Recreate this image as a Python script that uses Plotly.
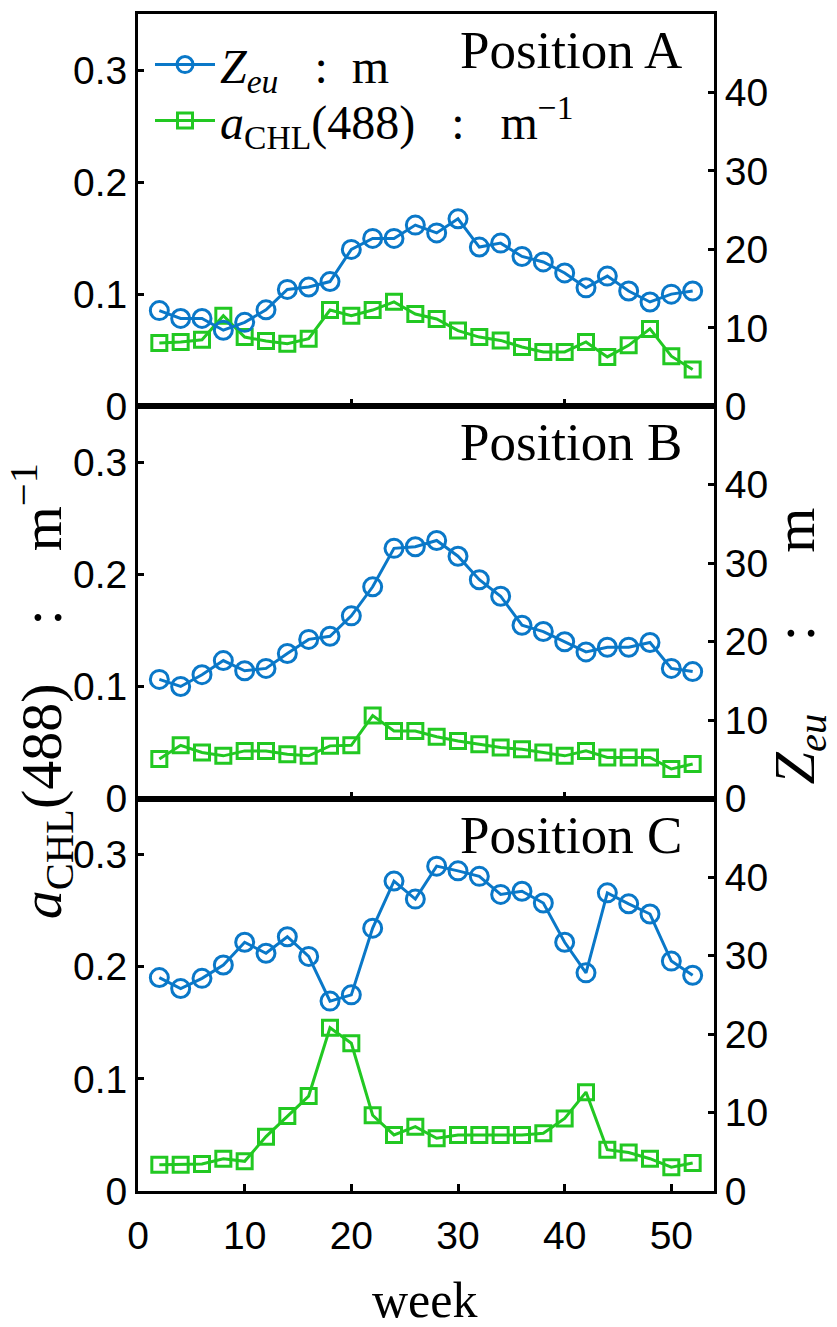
import plotly.graph_objects as go
from plotly.subplots import make_subplots

weeks = list(range(2, 53, 2))

zeu_A = [12.2, 11.2, 11.2, 9.7, 10.7, 12.3, 14.9, 15.2, 15.9, 20.0, 21.4, 21.4, 23.1,
         22.1, 23.9, 20.3, 20.8, 19.1, 18.4, 17.0, 15.1, 16.6, 14.7, 13.3, 14.3, 14.7]
chl_A = [0.0565, 0.0574, 0.0594, 0.0809, 0.0618, 0.0582, 0.0559, 0.0603, 0.0859, 0.0809,
         0.0859, 0.0932, 0.0823, 0.0779, 0.0676, 0.0618, 0.0588, 0.0529, 0.0485, 0.0485,
         0.0574, 0.0441, 0.0544, 0.0691, 0.0447, 0.0329]

zeu_B = [15.2, 14.3, 15.8, 17.6, 16.3, 16.6, 18.5, 20.3, 20.7, 23.3, 27.0, 31.9, 32.1,
         32.9, 30.9, 27.9, 25.8, 22.1, 21.3, 20.0, 18.7, 19.3, 19.3, 19.9, 16.6, 16.2]
chl_B = [0.0353, 0.0476, 0.0412, 0.0382, 0.0426, 0.0426, 0.0397, 0.0382, 0.0471, 0.0476,
         0.0741, 0.0603, 0.0603, 0.0553, 0.0515, 0.0485, 0.0456, 0.0441, 0.0412, 0.0382,
         0.0426, 0.0368, 0.0368, 0.0368, 0.0265, 0.0309]

zeu_C = [27.2, 25.8, 27.1, 28.8, 31.7, 30.3, 32.4, 29.9, 24.2, 25.0, 33.5, 39.5, 37.2,
         41.4, 40.8, 40.1, 37.8, 38.2, 36.7, 31.7, 27.8, 38.0, 36.6, 35.3, 29.3, 27.5]
chl_C = [0.0235, 0.0235, 0.0241, 0.0288, 0.0265, 0.0485, 0.0668, 0.0847, 0.1456, 0.1318,
         0.0676, 0.0500, 0.0574, 0.0471, 0.0500, 0.0500, 0.0500, 0.0500, 0.0515, 0.0647,
         0.0882, 0.0368, 0.0344, 0.0288, 0.0212, 0.0250]

panels = ["Position A", "Position B", "Position C"]
zeu_all = [zeu_A, zeu_B, zeu_C]
chl_all = [chl_A, chl_B, chl_C]

left_ticks = [0, 0.1, 0.2, 0.3]
left_labels = ["0", "0.1", "0.2", "0.3"]
right_ticks = [0, 10, 20, 30, 40]
x_ticks = [0, 10, 20, 30, 40, 50]

BLUE = "#0A78C8"
GREEN = "#22C822"
SERIF = "Liberation Serif"
SANS = "Liberation Sans"
SP = "&nbsp;"
S2 = SP * 2
S3 = SP * 3
S4 = SP * 4
S5 = SP * 5

zeu_name = f"<i>Z</i><sub><i>eu</i></sub>{S3}:{S2}m"
chl_name = f"<i>a</i><sub>CHL</sub>(488){S3}:{S3}m<sup>−1</sup>"

fig = make_subplots(rows=3, cols=1, shared_xaxes=False, vertical_spacing=0,
                    specs=[[{"secondary_y": True}]] * 3)

for i in range(3):
    r = i + 1
    fig.add_trace(go.Scatter(x=weeks, y=chl_all[i], mode="lines+markers", name=chl_name,
                             line=dict(color=GREEN, width=3),
                             marker=dict(symbol="square-open", size=15, color=GREEN,
                                         line=dict(width=3, color=GREEN)),
                             showlegend=(i == 0), legend="legend2"),
                  row=r, col=1, secondary_y=False)
    fig.add_trace(go.Scatter(x=weeks, y=zeu_all[i], mode="lines+markers", name=zeu_name,
                             line=dict(color=BLUE, width=3),
                             marker=dict(symbol="circle-open", size=18, color=BLUE,
                                         line=dict(width=3, color=BLUE)),
                             showlegend=(i == 0), legend="legend"),
                  row=r, col=1, secondary_y=True)

    fig.update_yaxes(range=[0, 0.35], tickvals=left_ticks, ticktext=left_labels,
                     showline=True, linecolor="black", linewidth=3, mirror=False,
                     ticks="inside", ticklen=6, tickwidth=2.5, tickcolor="black",
                     showgrid=False, zeroline=False,
                     tickfont=dict(family=SANS, size=39, color="black"),
                     row=r, col=1, secondary_y=False)
    fig.update_yaxes(range=[0, 50], tickvals=right_ticks,
                     showline=True, linecolor="black", linewidth=3,
                     ticks="inside", ticklen=6, tickwidth=2.5, tickcolor="black",
                     showgrid=False, zeroline=False,
                     tickfont=dict(family=SANS, size=39, color="black"),
                     row=r, col=1, secondary_y=True)
    if r < 3:
        fig.update_xaxes(range=[0, 54], tickvals=[20, 40], showticklabels=False,
                         row=r, col=1)
    else:
        fig.update_xaxes(range=[0, 54], tickvals=x_ticks, showticklabels=True,
                         tickfont=dict(family=SANS, size=39, color="black"),
                         ticklabelstandoff=8, row=r, col=1)
    fig.update_xaxes(domain=[0, 1], showline=True, linecolor="black", linewidth=3,
                     mirror=True, ticks="inside", ticklen=7, tickwidth=2.5,
                     tickcolor="black", showgrid=False, zeroline=False, row=r, col=1)

L, R, T, B = 138, 714, 11, 1191
W, H = 837, 1327


def px(xp):
    return (xp - L) / (R - L)


def py(yp):
    return 1 - (yp - T) / (B - T)


ann = []
for i, name in enumerate(panels):
    ann.append(dict(text=name, x=px(684), y=py(47 + i * 393.3), xref="paper", yref="paper",
                    xanchor="right", yanchor="middle", showarrow=False,
                    font=dict(family=SERIF, size=53, color="black")))
ann.append(dict(text=f"<i>a</i><sub>CHL</sub>(488){S4}:{S4}m<sup>−1</sup>",
                x=px(42), y=py(690), xref="paper", yref="paper", textangle=-90,
                xanchor="center", yanchor="middle", showarrow=False,
                font=dict(family=SERIF, size=58, color="black")))
ann.append(dict(text=f"<i>Z</i><sub><i>eu</i></sub>{S5}:{S5}m",
                x=px(798), y=py(645), xref="paper", yref="paper", textangle=-90,
                xanchor="center", yanchor="middle", showarrow=False,
                font=dict(family=SERIF, size=58, color="black")))
ann.append(dict(text="week", x=px(425), y=py(1300), xref="paper", yref="paper",
                xanchor="center", yanchor="middle", showarrow=False,
                font=dict(family=SERIF, size=50, color="black")))

legend_common = dict(xanchor="left", yanchor="middle", bgcolor="rgba(0,0,0,0)",
                     itemwidth=60, font=dict(family=SERIF, size=48, color="black"))

fig.update_layout(
    width=W, height=H,
    margin=dict(l=L, r=W - R, t=T, b=H - B),
    paper_bgcolor="white", plot_bgcolor="white",
    annotations=ann,
    showlegend=True,
    legend=dict(x=px(150), y=py(62), **legend_common),
    legend2=dict(x=px(150), y=py(118), **legend_common),
)

fig.write_html("out.html")
